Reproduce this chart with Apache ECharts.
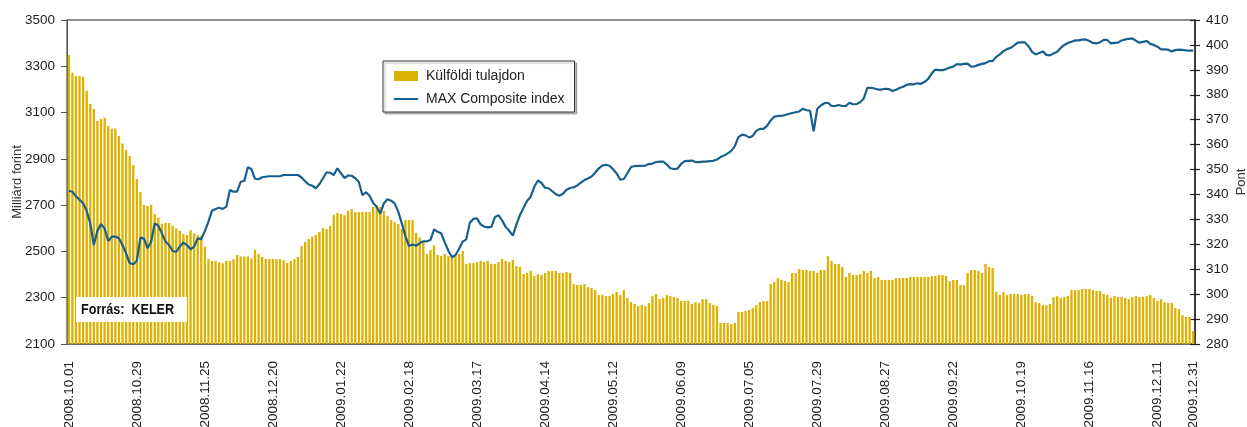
<!DOCTYPE html>
<html><head><meta charset="utf-8">
<script src="https://cdn.jsdelivr.net/npm/echarts@6/dist/echarts.min.js"></script>
<style>html,body{margin:0;padding:0;background:#fff}#c{width:1247px;height:427px}</style>
</head><body><div id="c"></div>
<script>
const tickLabels = ['2008.10.01','2008.10.29','2008.11.25','2008.12.20','2009.01.22','2009.02.18','2009.03.17','2009.04.14','2009.05.12','2009.06.09','2009.07.05','2009.07.29','2009.08.27','2009.09.22','2009.10.19','2009.11.16','2009.12.11','2009.12.31'];

const foreignHolding = [
3349,3272,3258,3258,3255,3194,3137,3116,3064,3072,
3078,3042,3030,3030,2999,2966,2938,2912,2873,2813,
2757,2701,2696,2701,2662,2646,2620,2623,2623,2610,
2600,2590,2575,2571,2592,2578,2570,2568,2520,2467,
2458,2459,2453,2449,2459,2459,2467,2485,2478,2478,
2478,2470,2507,2489,2476,2467,2467,2467,2467,2467,
2462,2450,2459,2467,2476,2523,2541,2554,2564,2571,
2584,2601,2597,2610,2657,2666,2662,2657,2675,2683,
2670,2670,2670,2670,2670,2692,2701,2692,2675,2653,
2636,2627,2619,2597,2636,2636,2636,2580,2560,2545,
2489,2506,2526,2485,2480,2489,2480,2472,2480,2489,
2502,2446,2450,2450,2454,2459,2454,2459,2446,2446,
2454,2467,2459,2454,2463,2437,2433,2402,2407,2416,
2394,2402,2398,2407,2416,2416,2416,2407,2407,2411,
2407,2359,2355,2355,2359,2346,2342,2333,2312,2312,
2307,2307,2316,2325,2312,2333,2299,2281,2273,2264,
2269,2264,2277,2307,2316,2294,2299,2312,2307,2303,
2299,2286,2286,2286,2273,2281,2277,2294,2294,2277,
2269,2264,2191,2191,2191,2186,2191,2238,2238,2243,
2247,2256,2269,2281,2286,2286,2359,2368,2385,2377,
2372,2368,2407,2407,2424,2420,2420,2416,2416,2407,
2420,2420,2480,2459,2446,2446,2433,2390,2407,2398,
2398,2402,2416,2407,2416,2385,2390,2377,2377,2377,
2377,2385,2385,2385,2385,2390,2390,2390,2390,2390,
2390,2394,2394,2398,2398,2394,2372,2377,2377,2355,
2355,2407,2420,2420,2416,2407,2446,2433,2428,2325,
2312,2325,2312,2316,2316,2316,2312,2316,2316,2307,
2281,2277,2268,2268,2273,2303,2307,2299,2303,2307,
2333,2333,2333,2338,2338,2338,2333,2329,2329,2316,
2312,2299,2307,2303,2303,2299,2294,2303,2307,2303,
2303,2307,2312,2299,2286,2294,2281,2277,2277,2256,
2251,2225,2217,2217,2156];

const maxIndex = [
341.5,341.1,339.3,337.9,336.5,333.4,328.4,319.7,325.5,328.1,
326.4,321.3,323.1,323.1,322.4,319.7,316.4,312.5,312.0,313.3,
322.7,322.3,318.4,321.0,328.4,327.5,324.4,321.1,319.7,317.3,
317.0,319.1,320.7,319.7,318.0,319.1,322.4,322.1,325.3,329.1,
333.5,334.2,334.7,334.2,335.1,341.8,341.1,341.1,345.1,345.4,
350.9,350.2,346.3,346.1,346.9,347.1,347.3,347.3,347.3,347.3,
347.8,347.8,347.8,347.8,347.8,346.8,345.3,344.0,343.5,342.5,
344.2,346.5,348.9,348.7,347.8,350.5,348.5,346.6,347.6,347.5,
346.5,345.0,339.7,340.9,339.5,336.6,335.0,332.3,336.5,338.1,
337.5,336.4,333.1,328.4,323.3,319.3,319.9,319.4,320.5,321.2,
321.2,321.7,326.0,325.0,324.4,320.8,317.4,314.8,315.7,318.2,
321.1,322.0,328.7,330.2,330.4,328.0,327.1,326.8,327.0,330.9,
331.7,329.6,327.0,325.4,323.5,327.9,331.8,334.7,337.5,339.1,
343.1,345.6,344.6,342.7,342.5,341.3,340.1,339.5,340.3,341.9,
342.6,342.9,343.6,344.7,345.8,346.4,347.2,348.7,350.5,351.6,
351.9,351.5,350.1,348.4,345.9,346.2,348.5,351.0,351.4,351.5,
351.5,351.6,352.2,352.4,353.0,353.2,353.2,352.0,350.5,350.2,
350.4,352.3,353.4,353.5,353.6,353.0,353.0,353.2,353.2,353.4,
353.5,354.0,355.0,355.6,356.5,357.5,359.4,363.0,364.0,363.7,
362.9,363.5,365.5,366.3,366.3,367.5,369.7,371.2,371.5,371.5,
371.9,372.3,372.7,373.0,373.3,374.4,373.8,373.6,365.3,374.3,
375.7,376.6,376.8,375.5,375.5,375.9,375.5,375.5,376.8,376.2,
376.3,377.0,378.5,382.8,382.8,382.5,382.1,382.1,382.4,382.3,
381.5,382.0,382.7,383.2,384.0,384.3,384.2,384.6,384.4,385.2,
386.4,388.6,390.1,389.9,389.9,390.3,390.9,391.3,392.3,392.1,
392.4,392.5,391.3,391.4,392.0,392.4,392.7,393.5,393.5,395.2,
396.2,397.5,398.3,398.8,399.8,400.9,401.0,401.0,399.5,397.2,
396.2,396.8,397.4,396.0,395.8,396.6,397.3,398.8,400.0,400.8,
401.3,401.8,401.8,402.1,402.2,401.6,400.8,400.6,401.1,402.0,
402.0,400.6,400.8,400.9,401.8,402.2,402.4,402.6,401.7,400.9,
401.2,401.6,400.4,400.0,399.3,398.2,398.2,398.1,397.4,397.9,
398.1,398.0,397.8,397.7,397.7];

const LABEL_STEP = 19;
const N = foreignHolding.length;
const categories = foreignHolding.map((_, i) => {
  if (i === N - 1) return tickLabels[tickLabels.length - 1];
  if (i % LABEL_STEP === 0 && i / LABEL_STEP < tickLabels.length - 1) return tickLabels[i / LABEL_STEP];
  return '';
});

const FONT = "'Liberation Sans',Arial,sans-serif";
const LINE_ICON = 'path://M0,0H0.01V0.01H0ZM0,4H24V6H0ZM23.99,9.99H24V10H23.99Z';
const chart = echarts.init(document.getElementById('c'), null, {renderer: 'canvas'});
chart.setOption({
  animation: false,
  backgroundColor: '#fff',
  textStyle: {fontFamily: FONT},
  grid: {left: 67, right: 52, top: 20, bottom: 83, show: true, borderColor: '#6e6e6e', borderWidth: 1.5, containLabel: false, outerBoundsMode: 'none'},
  legend: {
    left: 383, top: 61, orient: 'vertical',
    padding: [8, 10, 6, 11], itemGap: 9, itemWidth: 24, itemHeight: 10,
    borderColor: '#333', borderWidth: 1, backgroundColor: '#fff',
    shadowColor: 'rgba(0,0,0,0.25)', shadowOffsetX: 2, shadowOffsetY: 2, shadowBlur: 1,
    textStyle: {fontFamily: FONT, fontSize: 14, color: '#222', padding: [0, 0, 0, 3]},
    data: [{name: 'Külföldi tulajdon', icon: 'rect'}, {name: 'MAX Composite index', icon: LINE_ICON}]
  },
  xAxis: {
    type: 'category', data: categories, boundaryGap: true,
    axisLine: {lineStyle: {color: '#666', width: 1.5}},
    axisTick: {show: false},
    axisLabel: {interval: (i, v) => v !== '', rotate: 90, margin: 17, fontSize: 13.5, color: '#222', fontFamily: FONT}
  },
  yAxis: [
    {type: 'value', position: 'left', min: 2100, max: 3500, interval: 200,
     axisLine: {show: true, lineStyle: {color: '#555', width: 1}},
     axisTick: {show: true, inside: false, length: 6, lineStyle: {color: '#555'}},
     axisLabel: {margin: 12, fontSize: 13.5, color: '#222', fontFamily: FONT, formatter: v => String(v)},
     splitLine: {show: false}},
    {type: 'value', position: 'right', min: 280, max: 410, interval: 10,
     axisLine: {show: true, lineStyle: {color: '#222', width: 1.5}},
     axisTick: {show: true, inside: false, length: 5, lineStyle: {color: '#222', width: 1.2}},
     axisLabel: {margin: 11, fontSize: 13.5, color: '#222', fontFamily: FONT, formatter: v => String(v)},
     splitLine: {show: false}},
    {type: 'value', position: 'right', min: 280, max: 410, interval: 10,
     axisLine: {show: false}, axisLabel: {show: false}, splitLine: {show: false},
     axisTick: {show: true, inside: true, length: 5, lineStyle: {color: '#222', width: 1.2}}}
  ],
  series: [
    {name: 'Külföldi tulajdon', type: 'bar', yAxisIndex: 0, data: foreignHolding,
     barCategoryGap: '35%', itemStyle: {color: '#DDB100'}, z: 2},
    {name: 'MAX Composite index', type: 'line', yAxisIndex: 1, data: maxIndex,
     symbol: 'none', lineStyle: {width: 2.2, color: '#17608B'}, itemStyle: {color: '#17608B'}, z: 3}
  ],
  graphic: [
    {type: 'rect', left: 76, top: 297, z: 100, shape: {width: 111, height: 25}, style: {fill: '#fff'}},
    {type: 'text', x: 81, y: 310, scaleX: 0.84, z: 101,
     style: {text: 'Forrás:  KELER', font: 'bold 15px ' + FONT, fill: '#111', verticalAlign: 'middle'}},
    {type: 'text', x: 17, y: 182, rotation: Math.PI / 2, z: 101,
     style: {text: 'Milliárd forint', font: '13px ' + FONT, fill: '#333', align: 'center', verticalAlign: 'middle'}},
    {type: 'text', x: 1241, y: 182, rotation: Math.PI / 2, z: 101,
     style: {text: 'Pont', font: '13px ' + FONT, fill: '#333', align: 'center', verticalAlign: 'middle'}}
  ]
});
</script></body></html>
